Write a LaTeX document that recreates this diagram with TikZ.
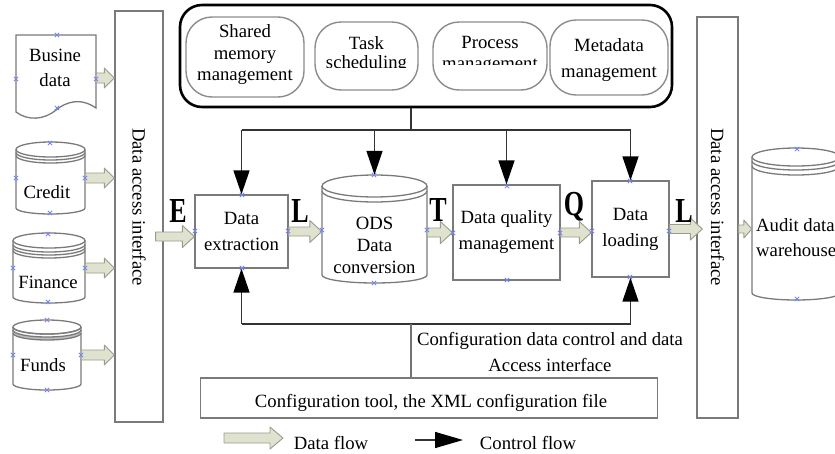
\documentclass[tikz,border=0pt]{standalone}
\usepackage{fontspec}
\setmainfont{Liberation Serif}
\usepackage{graphicx}
\usetikzlibrary{arrows.meta,calc}

\definecolor{flowfill}{HTML}{DFE2CF}
\definecolor{flowedge}{HTML}{9A9C8A}
\definecolor{boxedge}{HTML}{7A7A7A}
\definecolor{pillline}{HTML}{8C8C8C}
\definecolor{pincolor}{HTML}{7385F2}

% fat data-flow arrow: start, end, shaft half-width, head half-width, head length
\newcommand\fatarrow[5]{%
  \path[flowarrow] let \p1=(#1), \p2=(#2) in
    (\x1,\y1+#3pt) -- (\x2-#5pt,\y1+#3pt) -- (\x2-#5pt,\y1+#4pt) -- (\x2,\y1)
    -- (\x2-#5pt,\y1-#4pt) -- (\x2-#5pt,\y1-#3pt) -- (\x1,\y1-#3pt) -- cycle;}

% database drum: left, top, right, bottom, top radius, bottom radius
\newcommand\dbcyl[6]{%
  \pgfmathsetmacro\cylcx{(#1+#3)/2}\pgfmathsetmacro\cylrx{(#3-#1)/2}%
  \draw[cylline] (#1,-#2-#5) -- (#1,-#4+#6)
    arc[start angle=180,end angle=360,x radius=\cylrx,y radius=#6] -- (#3,-#2-#5);
  \draw[cylline] (\cylcx,-#2-#5) ellipse[x radius=\cylrx,y radius=#5];}
% extra front ring of a drum: left, right, y, radius
\newcommand\dbring[4]{%
  \pgfmathsetmacro\cylrx{(#2-#1)/2}%
  \draw[cylline] (#1,-#3) arc[start angle=180,end angle=360,x radius=\cylrx,y radius=#4];}

% small connection-point cross
\newcommand\pin[1]{\draw[pinmark] ($(#1)+(-2.2,-2.2)$) -- ($(#1)+(2.2,2.2)$)
  ($(#1)+(-2.2,2.2)$) -- ($(#1)+(2.2,-2.2)$);}

\newcommand\stagelabel[1]{\scalebox{1}[1.35]{\fontsize{26}{26}\selectfont\bfseries #1}}

\begin{document}
\begin{tikzpicture}[x=1pt,y=1pt,
  txt/.style={font=\fontsize{18.7}{22}\selectfont, inner sep=0pt, align=center},
  procbox/.style={draw=boxedge, line width=1.3pt, inner sep=0pt, align=center,
                  font=\fontsize{18.7}{26}\selectfont},
  barbox/.style={draw=boxedge, line width=1.3pt, inner sep=0pt},
  pill/.style={draw=pillline, line width=1.4pt, rounded corners=26pt, inner sep=0pt},
  cylline/.style={draw=boxedge, line width=1.3pt},
  hold/.style={inner sep=0pt, draw=none},
  flowarrow/.style={fill=flowfill, draw=flowedge, line width=0.9pt, line join=round},
  ctrlline/.style={draw=black!80, line width=1.5pt},
  ctrlarrow/.style={ctrlline, -{Triangle[width=16pt,length=24pt,color=black]}},
  pinmark/.style={draw=pincolor, line width=0.8pt},
]
\useasboundingbox (0,0) rectangle (835,-453);
\clip (0,0) rectangle (835,-453);
\fill[white] (0,0) rectangle (835,-453);

% ---------- source systems ----------
\node[hold, minimum width=80pt, minimum height=86pt] (busine) at (56,-78) {};
\draw[cylline] (16,-35) -- (96,-35) -- (96,-108)
  .. controls (80,-97) and (66,-102) .. (56,-110)
  .. controls (44,-120) and (28,-121) .. (16,-112) -- cycle;
\node[txt, font=\fontsize{18.7}{25}\selectfont] at (55,-68) {Busine\\data};

\node[hold, minimum width=69pt, minimum height=72pt] (credit) at (50.5,-178) {};
\dbcyl{16}{142}{85}{214}{7.5}{6}
\dbring{16}{85}{152.5}{7.5}
\dbring{16}{85}{155.5}{7.5}
\node[txt] at (47,-192) {Credit};

\node[hold, minimum width=72pt, minimum height=70pt] (finance) at (49,-268) {};
\dbcyl{13}{233}{85}{303}{7.5}{6}
\dbring{13}{85}{244.5}{7.5}
\dbring{13}{85}{247.5}{7.5}
\dbring{13}{85}{250.5}{7.5}
\node[txt] at (48,-282) {Finance};

\node[hold, minimum width=68pt, minimum height=70pt] (funds) at (47,-355) {};
\dbcyl{13}{320}{81}{390}{7}{6}
\fill[black!25] (13,-330) arc[start angle=180,end angle=360,x radius=34,y radius=7]
  -- (81,-333) arc[start angle=360,end angle=180,x radius=34,y radius=7] -- cycle;
\dbring{13}{81}{327}{7}
\dbring{13}{81}{330}{7}
\dbring{13}{81}{333}{7}
\node[txt] at (43,-365) {Funds};

% ---------- access interfaces ----------
\node[barbox, minimum width=48pt, minimum height=411pt] (lbar) at (139,-216.5) {};
\node[txt, rotate=-90] at (139,-207) {Data access interface};
\node[barbox, minimum width=41pt, minimum height=401pt] (rbar) at (717.5,-217.5) {};
\node[txt, rotate=-90] at (717.5,-207) {Data access interface};

% ---------- management services ----------
\node[draw, line width=2.6pt, rounded corners=22pt, minimum width=492pt,
      minimum height=102pt, inner sep=0pt] (core) at (426,-56) {};
\node[pill, minimum width=118pt, minimum height=80pt] (shm) at (245,-57) {};
\node[txt, font=\fontsize{18.7}{21.5}\selectfont] at (245,-55) {Shared\\memory\\management};
\node[pill, minimum width=103pt, minimum height=68pt] (task) at (366.5,-56) {};
\begin{scope}
  \clip (318,-24) rectangle (416,-67.5);
  \node[txt, font=\fontsize{18.7}{19}\selectfont] at (366.5,-55) {Task\\scheduling};
\end{scope}
\node[pill, minimum width=114pt, minimum height=68pt] (proc) at (490,-56) {};
\begin{scope}
  \clip (436,-24) rectangle (545,-64);
  \node[txt, font=\fontsize{18.7}{21}\selectfont] at (490,-55) {Process\\management};
\end{scope}
\node[pill, minimum width=118pt, minimum height=75pt] (meta) at (609,-57.5) {};
\node[txt, font=\fontsize{18.7}{26}\selectfont] at (609,-60) {Metadata\\management};

% ---------- ETL stages ----------
\node[procbox, minimum width=93pt, minimum height=73pt] (ext) at (241.5,-231.5) {Data\\extraction};
\node[hold, minimum width=105pt, minimum height=108pt] (ods) at (374.5,-229) {};
\dbcyl{322}{175}{427}{283}{11}{8}
\dbring{322}{427}{191}{11}
\node[txt] at (374.5,-245) {ODS\\Data\\conversion};
\node[procbox, minimum width=107pt, minimum height=95pt] (dq) at (506.5,-232.5) {Data quality\\management};
\node[procbox, minimum width=77pt, minimum height=96pt] (load) at (630.5,-229) {Data\\loading};

% ---------- audit warehouse ----------
\node[hold, minimum width=88pt, minimum height=152pt] (audit) at (796,-224) {};
\dbcyl{752}{148}{840}{300}{9}{7}
\dbring{752}{840}{161}{9}
\dbring{752}{840}{166}{9}
\node[txt, align=left, anchor=west, font=\fontsize{18.7}{25}\selectfont] at (756,-237.5) {Audit data\\warehouse};

% ---------- configuration ----------
\node[barbox, minimum width=457pt, minimum height=40pt] (cfg) at (429,-398) {};
\node[txt] at (431,-403) {Configuration tool, the XML configuration file};
\node[txt, font=\fontsize{18.7}{26}\selectfont] at (550,-352) {Configuration data control and data\\Access interface};

% ---------- data flow ----------
\fatarrow{busine.east}{busine.east -| lbar.west}{5}{10}{10}
\fatarrow{credit.east}{credit.east -| lbar.west}{5}{10}{10}
\fatarrow{finance.east}{finance.east -| lbar.west}{5}{10}{10}
\fatarrow{funds.east}{funds.east -| lbar.west}{5}{10}{10}
\fatarrow{$(lbar.east |- ext.west)+(-8,-5)$}{ext.west}{4.5}{11}{12}
\fatarrow{ext.east}{ods.west}{4.5}{11}{12}
\fatarrow{ods.east |- dq.west}{dq.west}{4.5}{11}{12}
\fatarrow{dq.east}{load.west}{4.5}{11}{12}
\fatarrow{load.east}{$(rbar.west)+(6,0)$}{4.5}{11}{12}
\fatarrow{rbar.east |- load.east}{audit.west}{4}{9}{8}

\node at (178,-211) {\stagelabel{E}};
\node at (300,-211) {\stagelabel{L}};
\node at (438,-210) {\stagelabel{T}};
\node at (574,-207) {\stagelabel{Q}};
\node at (684,-211) {\stagelabel{L}};

% ---------- control flow ----------
\coordinate (tap) at (411,-130);
\draw[ctrlline] (core.south -| tap) -- (tap);
\draw[ctrlline] (ext.north |- tap) -- (load.north |- tap);
\draw[ctrlarrow] (ext.north |- tap) -- (ext.north);
\draw[ctrlarrow] (ods.north |- tap) -- (ods.north);
\draw[ctrlarrow] (dq.north |- tap) -- (dq.north);
\draw[ctrlarrow] (load.north |- tap) -- (load.north);

\coordinate (btap) at (411,-324);
\draw[ctrlline] (ext.south |- btap) -- (load.south |- btap);
\draw[ctrlarrow] (ext.south |- btap) -- (ext.south);
\draw[ctrlarrow] (load.south |- btap) -- (load.south);
\draw[ctrlline, draw=black!55] (btap) -- (btap |- cfg.north);

% ---------- legend ----------
\coordinate (dfa) at (224,-438);
\coordinate (dfb) at (283,-438);
\fatarrow{dfa}{dfb}{5}{11}{13}
\node[txt] at (331,-443) {Data flow};
\coordinate (cfa) at (415,-440);
\coordinate (cfb) at (463,-440);
\draw[ctrlline, -{Triangle[width=16pt,length=28pt,color=black]}] (cfa) -- (cfb);
\node[txt] at (528,-443) {Control flow};

% ---------- connection points ----------
\foreach \p in {{57,-35},{16,-79},{96,-79},{57,-108},
                {50,-143},{16,-178},{85,-178},{50,-213},
                {48,-234},{13,-268},{85,-268},{48,-302},
                {47,-320},{13,-355},{81,-355},{47,-390},
                {242,-195},{195,-231},{288,-231},{242,-268},
                {374,-175},{322,-230},{427,-230},{374,-283},
                {507,-186},{453,-233},{560,-233},{507,-280},
                {630,-181},{592,-231},{669,-231},{630,-277},
                {797,-149},{797,-299}}
  {\pin{\p}}
\end{tikzpicture}
\end{document}
